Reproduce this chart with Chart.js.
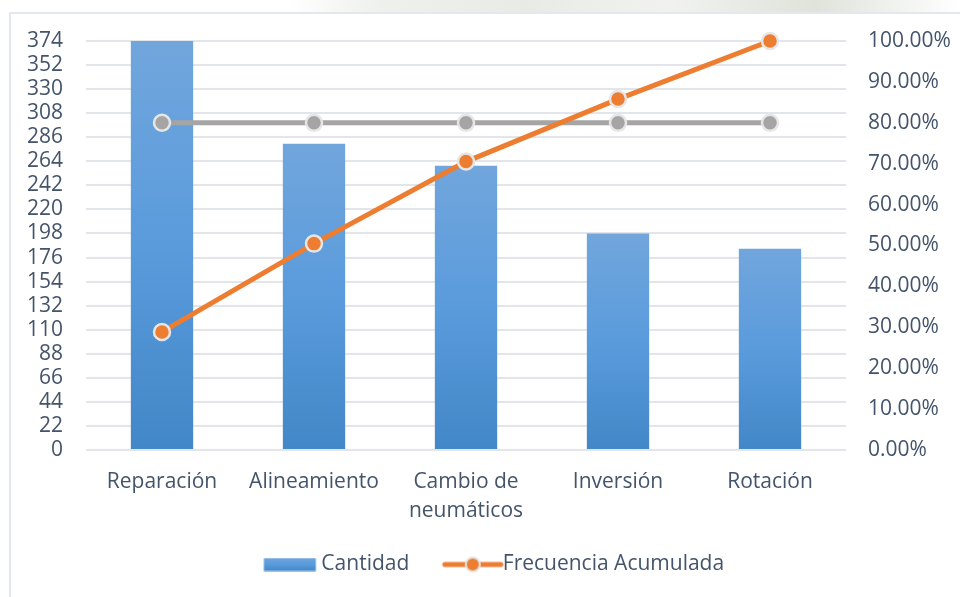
<!DOCTYPE html>
<html>
<head>
<meta charset="utf-8">
<script src="https://cdn.jsdelivr.net/npm/chart.js@4"></script>
<style>
  html, body { margin: 0; padding: 0; background: #fff; }
  #wrap { position: relative; width: 960px; height: 597px; overflow: hidden; }
  #band { position: absolute; left: 0; top: 0; width: 960px; height: 12px;
          background: linear-gradient(90deg, #fff 0%, #fff 30%, #eef0ec 40%, #e8ebe5 55%, #f1f2ef 70%, #dfe3da 85%, #fff 100%); }
  #frame { position: absolute; left: 9px; top: 12px; width: 960px; height: 600px;
           border-left: 2px solid #e3e7ee; border-top: 2px solid #e3e7ee; box-sizing: border-box; }
  #c { position: absolute; left: 0; top: 0; }
</style>
</head>
<body>
<div id="wrap">
  <div id="band"></div>
  <div id="frame"></div>
  <canvas id="c" width="960" height="597"></canvas>
</div>
<script>
const categories = ['Reparación', 'Alineamiento', ['Cambio de', 'neumáticos'], 'Inversión', 'Rotación'];
const cantidad = [374, 280, 260, 198, 184];
const frecuenciaAcumulada = [28.86, 50.46, 70.52, 85.80, 100.00];
const referencia80 = [80, 80, 80, 80, 80];
const leftTicks = [0, 22, 44, 66, 88, 110, 132, 154, 176, 198, 220, 242, 264, 286, 308, 330, 352, 374];
const rightTicks = [0, 10, 20, 30, 40, 50, 60, 70, 80, 90, 100];

const TEXT = '#44546a';
const FONT = 'Open Sans';
const FS = 21;

function barGradient(ctx, top, bottom) {
  const g = ctx.createLinearGradient(0, top, 0, bottom);
  g.addColorStop(0, '#71a6dc');
  g.addColorStop(0.5, '#5a9bdc');
  g.addColorStop(1, '#4287c7');
  return g;
}

// legend images (content placed relative to legend item's x)
function legendBarImg() {
  const c = document.createElement('canvas');
  c.width = 114; c.height = 14;
  const x = c.getContext('2d');
  x.fillStyle = barGradient(x, 0, 14);
  x.fillRect(33.5, 0.5, 52, 13);
  return c;
}
function legendLineImg() {
  const c = document.createElement('canvas');
  c.width = 114; c.height = 20;
  const x = c.getContext('2d');
  x.strokeStyle = '#ed7d31'; x.lineWidth = 5; x.lineCap = 'round';
  x.beginPath(); x.moveTo(33, 10); x.lineTo(89, 10); x.stroke();
  x.beginPath(); x.arc(61, 10, 7, 0, Math.PI * 2);
  x.fillStyle = '#ed7d31'; x.fill();
  x.lineWidth = 2; x.strokeStyle = '#e4e4e4'; x.stroke();
  return c;
}
const imgBar = legendBarImg();
const imgLine = legendLineImg();

const chart = new Chart(document.getElementById('c'), {
  data: {
    labels: categories,
    datasets: [
      {
        type: 'line', label: 'Frecuencia Acumulada', data: frecuenciaAcumulada, yAxisID: 'y2',
        borderColor: '#ed7d31', backgroundColor: '#ed7d31', borderWidth: 5,
        pointRadius: 8, pointHoverRadius: 8, pointBackgroundColor: '#ed7d31',
        pointBorderColor: '#e6e6e6', pointBorderWidth: 2.5, order: 1, tension: 0, clip: false
      },
      {
        type: 'line', label: '80%', data: referencia80, yAxisID: 'y2',
        borderColor: '#a5a5a5', backgroundColor: '#a5a5a5', borderWidth: 5,
        pointRadius: 8, pointHoverRadius: 8, pointBackgroundColor: '#a5a5a5',
        pointBorderColor: '#e6e6e6', pointBorderWidth: 2.5, order: 2, tension: 0, clip: false
      },
      {
        type: 'bar', label: 'Cantidad', data: cantidad, yAxisID: 'y',
        backgroundColor: (ctx) => {
          const ch = ctx.chart;
          if (!ch.chartArea || ctx.type !== 'data') return '#5b9bd5';
          const ys = ch.scales.y;
          return barGradient(ch.ctx, ys.getPixelForValue(ctx.parsed.y), ys.getPixelForValue(0));
        },
        barPercentage: 0.82, categoryPercentage: 0.5, order: 3
      }
    ]
  },
  options: {
    responsive: false,
    animation: false,
    layout: { padding: { left: 28, right: 0, top: 41, bottom: 12 } },
    plugins: {
      tooltip: { enabled: false },
      legend: {
        position: 'bottom',
        labels: {
          usePointStyle: true,
          pointStyleWidth: 47,
          boxHeight: 14,
          padding: 36,
          color: TEXT,
          font: { family: FONT, size: FS },
          generateLabels: (ch) => [
            { text: 'Cantidad', pointStyle: imgBar, datasetIndex: 2, fontColor: TEXT, lineWidth: 0, strokeStyle: 'transparent', fillStyle: 'transparent' },
            { text: 'Frecuencia Acumulada', pointStyle: imgLine, datasetIndex: 0, fontColor: TEXT, lineWidth: 0, strokeStyle: 'transparent', fillStyle: 'transparent' }
          ]
        }
      }
    },
    scales: {
      x: {
        grid: { display: false, drawTicks: false },
        border: { display: false },
        afterFit: (s) => { s.height = 68; },
        ticks: { color: TEXT, font: { family: FONT, size: FS, lineHeight: 1.35 }, padding: 18, maxRotation: 0, autoSkip: true }
      },
      y: {
        position: 'left', min: 0, max: 374,
        afterBuildTicks: (s) => { s.ticks = leftTicks.map(v => ({ value: v })); },
        afterFit: (s) => { s.width = 58; },
        grid: { color: '#e2e5ea', lineWidth: 2, drawTicks: false },
        border: { display: false },
        ticks: { color: TEXT, font: { family: FONT, size: FS }, padding: 23, autoSkip: false }
      },
      y2: {
        position: 'right', min: 0, max: 100,
        afterBuildTicks: (s) => { s.ticks = rightTicks.map(v => ({ value: v })); },
        afterFit: (s) => { s.width = 114; },
        grid: { display: false, drawTicks: false },
        border: { display: false },
        ticks: { color: TEXT, font: { family: FONT, size: FS }, padding: 22, autoSkip: false, callback: (v) => v.toFixed(2) + '%' }
      }
    }
  }
});
</script>
</body>
</html>
